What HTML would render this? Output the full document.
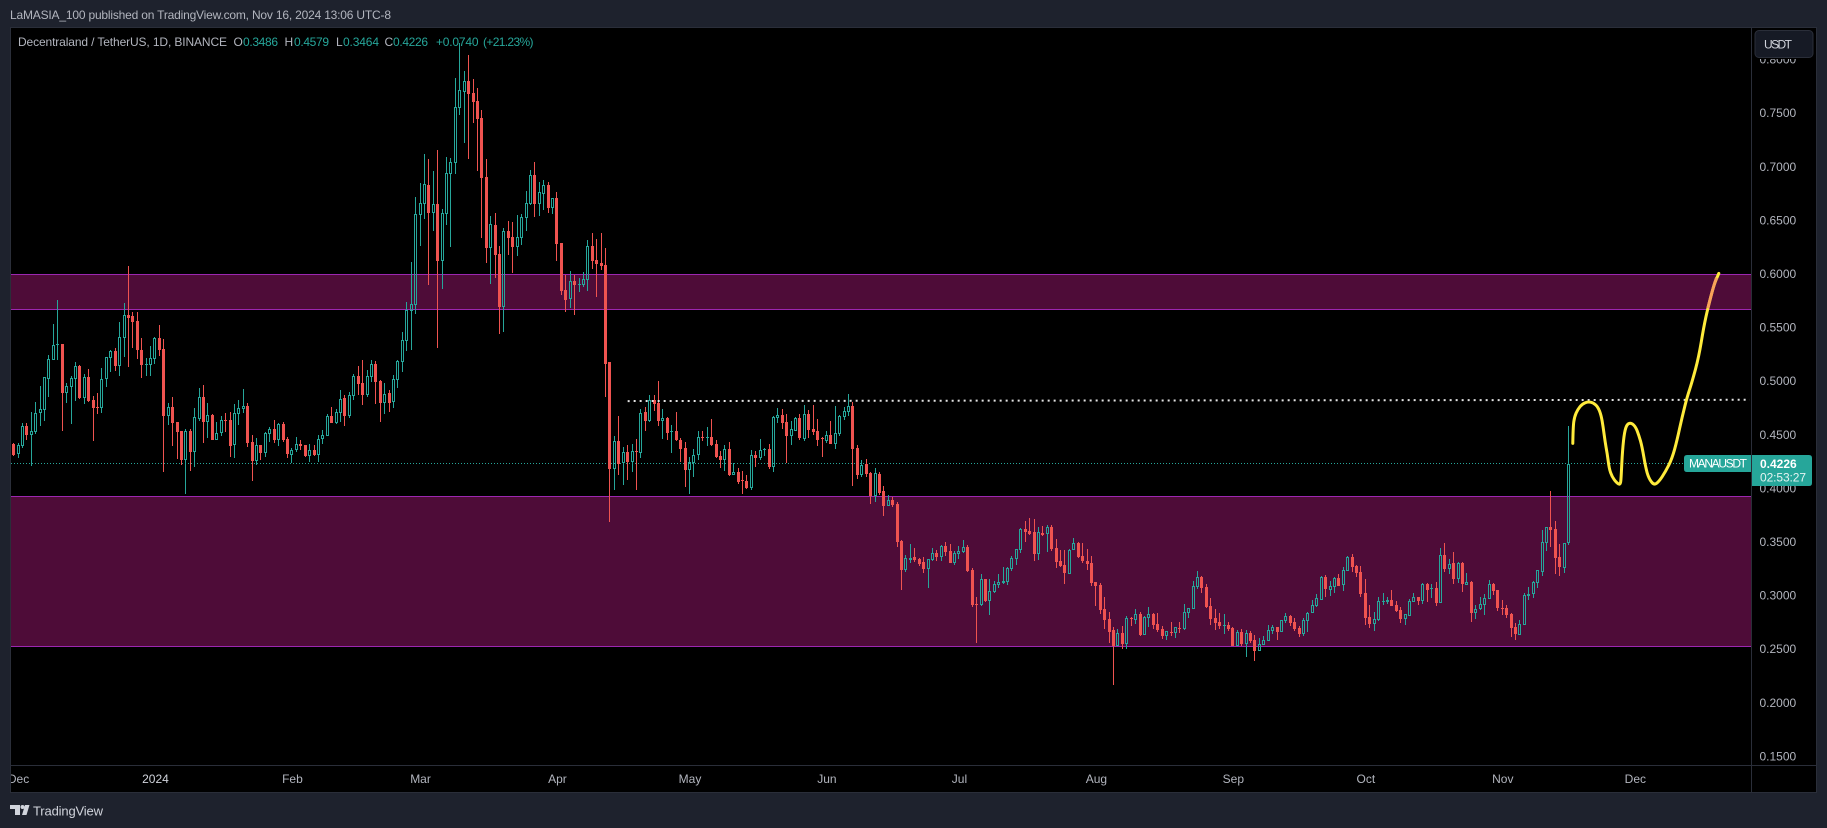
<!DOCTYPE html>
<html lang="en">
<head>
<meta charset="utf-8">
<title>Decentraland / TetherUS chart</title>
<style>
html,body{margin:0;padding:0;width:1827px;height:828px;overflow:hidden;background:#1e222d}
svg{display:block;font-family:"Liberation Sans",sans-serif}
text{dominant-baseline:central}
</style>
</head>
<body>
<svg id="chart" xmlns="http://www.w3.org/2000/svg" width="1827" height="828" viewBox="0 0 1827 828">
  <defs><clipPath id="plot-clip"><rect x="11" y="28" width="1740" height="737"/></clipPath></defs>
  <rect x="0" y="0" width="1827" height="828" fill="#1e222d"/>
  <text x="10" y="15" font-size="12" fill="#b2b5be" textLength="381" lengthAdjust="spacing">LaMASIA_100 published on TradingView.com, Nov 16, 2024 13:06 UTC-8</text>
  <rect x="10.5" y="27.5" width="1806" height="765" fill="#000" stroke="#2a2e39" shape-rendering="crispEdges"/>
  <g id="plot" clip-path="url(#plot-clip)"></g>
  <rect x="1751" y="28" width="1" height="764" fill="#2a2e39" shape-rendering="crispEdges"/>
  <rect x="11" y="765" width="1805" height="1" fill="#2a2e39" shape-rendering="crispEdges"/>
  <g id="price-axis"></g>
  <svg x="11" y="766" width="1740" height="26"><g id="time-axis"></g></svg>

  <g font-size="12">
    <text x="18" y="42" fill="#b2b5be" textLength="209" lengthAdjust="spacing">Decentraland / TetherUS, 1D, BINANCE</text>
    <text x="233.500" y="42" fill="#b2b5be">O</text>
    <text x="243" y="42" fill="#26a69a" textLength="35">0.3486</text>
    <text x="284.500" y="42" fill="#b2b5be">H</text>
    <text x="294" y="42" fill="#26a69a" textLength="35">0.4579</text>
    <text x="336" y="42" fill="#b2b5be">L</text>
    <text x="343" y="42" fill="#26a69a" textLength="36">0.3464</text>
    <text x="384.500" y="42" fill="#b2b5be">C</text>
    <text x="393" y="42" fill="#26a69a" textLength="35">0.4226</text>
    <text x="436" y="42" fill="#26a69a" textLength="42.5">+0.0740</text>
    <text x="483" y="42" fill="#26a69a" textLength="50.5">(+21.23%)</text>
  </g>

  <rect x="1752" y="28" width="64" height="31" fill="#000"/>
  <g>
    <rect x="1755" y="30.5" width="58" height="27" rx="4" fill="#161a25" stroke="#2a2e39"/>
    <text x="1764" y="44.5" font-size="12" fill="#d1d4dc" textLength="28">USDT</text>
  </g>

  <g>
    <path d="M1687 455H1751V472H1687Q1684 472 1684 469V458Q1684 455 1687 455Z" fill="#26a69a"/>
    <text x="1689" y="463.5" font-size="12" fill="#fff" textLength="58">MANAUSDT</text>
    <path d="M1752 455H1809Q1812 455 1812 458V483Q1812 486 1809 486H1752Z" fill="#26a69a"/>
    <text x="1760" y="464" font-size="12" font-weight="bold" fill="#fff">0.4226</text>
    <text x="1760" y="477.5" font-size="12" fill="#e3f3f1" textLength="46">02:53:27</text>
  </g>

  <g>
    <path d="M10 805H20V815H15V809H10Z M25 815L28 805H29.500L26.500 815Z M22 815L25 805H29L26 815Z" fill="#d1d4dc"/>
    <circle cx="22.500" cy="807" r="2" fill="#d1d4dc"/>
    <text x="33" y="811" font-size="13" fill="#d1d4dc" textLength="70" lengthAdjust="spacing">TradingView</text>
  </g>
</svg>

<script>
const priceTicks = ["0.8000","0.7500","0.7000","0.6500","0.6000","0.5500","0.5000","0.4500","0.4000","0.3500","0.3000","0.2500","0.2000","0.1500"];
const monthLabels = ["Dec","2024","Feb","Mar","Apr","May","Jun","Jul","Aug","Sep","Oct","Nov","Dec"];
const monthBars = [2,33,64,93,124,154,185,215,246,277,307,338,368];

const opens = [
.4440,.4409,.4316,.4390,.4577,.4496,.4521,.4701,.4729,.5018,
.5196,.5332,.5342,.4888,.4944,.5018,.5137,.4838,.5034,.4819,
.4754,.4745,.5018,.5214,.5277,.5137,.5401,.5612,.5603,.5556,
.5286,.5149,.5146,.5205,.5398,.5295,.4670,.4754,.4614,.4530,
.4260,.4530,.4334,.4642,.4847,.4614,.4680,.4446,.4512,.4633,
.4633,.4400,.4689,.4735,.4763,.4428,.4250,.4400,.4325,.4502,
.4549,.4446,.4595,.4456,.4306,.4353,.4409,.4400,.4297,.4353,
.4306,.4456,.4484,.4670,.4605,.4698,.4838,.4670,.4857,.5043,
.4978,.4866,.5034,.5155,.4997,.4791,.4885,.4801,.5006,.5174,
.5370,.5653,.5706,.6546,.6648,.6825,.6564,.6648,.6116,.6555,
.6928,.7031,.7544,.7693,.7796,.7684,.7609,.7451,.6900,.6238,
.6452,.6182,.5687,.6396,.6340,.6247,.6331,.6518,.6648,.6919,
.6648,.6741,.6825,.6611,.6704,.6284,.5846,.5762,.5930,.5896,
.5892,.5939,.6256,.6126,.6098,.6079,.5174,.4176,.4437,.4232,
.4334,.4241,.4344,.4325,.4708,.4624,.4820,.4792,.4624,.4652,
.4521,.4530,.4446,.4372,.4166,.4232,.4306,.4474,.4468,.4474,
.4409,.4297,.4260,.4362,.4120,.4148,.4073,.4064,.3999,.4306,
.4278,.4356,.4362,.4194,.4652,.4680,.4614,.4484,.4530,.4652,
.4456,.4689,.4549,.4530,.4465,.4437,.4493,.4409,.4502,.4661,
.4708,.4764,.4372,.4120,.4222,.4139,.3924,.4129,.3971,.3831,
.3887,.3849,.3504,.3233,.3327,.3355,.3336,.3308,.3243,.3327,
.3392,.3355,.3458,.3411,.3299,.3383,.3402,.3448,.3234,.2917,
.2907,.3150,.2945,.3029,.3094,.3116,.3122,.3243,.3337,.3420,
.3616,.3598,.3588,.3383,.3579,.3570,.3635,.3439,.3318,.3281,
.3200,.3420,.3486,.3365,.3318,.3299,.3122,.3094,.2870,.2777,
.2674,.2525,.2646,.2543,.2786,.2767,.2823,.2627,.2786,.2823,
.2730,.2683,.2618,.2655,.2646,.2693,.2683,.2833,.2870,.3075,
.3169,.3075,.2898,.2786,.2749,.2715,.2721,.2693,.2525,.2655,
.2543,.2646,.2581,.2478,.2535,.2572,.2665,.2702,.2656,.2758,
.2805,.2749,.2693,.2637,.2758,.2833,.2898,.2954,.3169,.3048,
.3076,.3160,.3094,.3225,.3356,.3272,.3216,.3020,.2796,.2730,
.2768,.2936,.2936,.2954,.2908,.2861,.2777,.2805,.2936,.2982,
.2945,.3104,.3060,.3066,.2926,.3374,.3244,.3300,.3150,.3300,
.3094,.3122,.2833,.2870,.2908,.2964,.3104,.3048,.2880,.2880,
.2824,.2702,.2628,.2721,.2995,.3010,.3113,.3216,.3486,.3635,
.3617,.3356,.3253,.3486];

const highs = [
.4446,.4415,.4415,.4602,.4602,.4707,.4801,.4950,.5031,.5239,
.5528,.5752,.5342,.4975,.5043,.5171,.5143,.5062,.5109,.4854,
.4885,.5118,.5217,.5286,.5301,.5547,.5724,.6070,.5640,.5640,
.5398,.5208,.5323,.5404,.5519,.5389,.4791,.4847,.4614,.4530,
.4549,.4549,.4745,.4931,.4959,.4791,.4689,.4614,.4670,.4698,
.4707,.4782,.4819,.4922,.4791,.4493,.4465,.4400,.4521,.4568,
.4633,.4602,.4614,.4474,.4372,.4474,.4446,.4400,.4409,.4400,
.4493,.4539,.4689,.4754,.4735,.4913,.4866,.4894,.5062,.5137,
.5193,.5099,.5193,.5183,.5006,.4978,.4913,.5053,.5193,.5454,
.5734,.6107,.6713,.6844,.7115,.7068,.6956,.7152,.6601,.7087,
.7077,.7824,.8150,.7889,.8038,.7814,.7730,.7525,.7068,.6536,
.6564,.6256,.6424,.6490,.6480,.6546,.6555,.6769,.6965,.7040,
.6853,.6872,.6853,.6704,.6760,.6284,.5986,.6023,.5986,.5958,
.6014,.6312,.6378,.6322,.6378,.6238,.5174,.4484,.4670,.4381,
.4400,.4409,.4456,.4736,.4754,.4866,.4866,.4997,.4736,.4661,
.4586,.4708,.4465,.4428,.4288,.4362,.4530,.4530,.4568,.4642,
.4446,.4344,.4400,.4428,.4232,.4185,.4157,.4120,.4353,.4344,
.4456,.4372,.4409,.4670,.4745,.4736,.4689,.4624,.4661,.4689,
.4773,.4726,.4773,.4642,.4474,.4530,.4624,.4764,.4680,.4754,
.4876,.4801,.4400,.4260,.4269,.4148,.4185,.4148,.4017,.3933,
.3915,.3868,.3513,.3373,.3476,.3439,.3345,.3355,.3336,.3439,
.3420,.3467,.3495,.3476,.3411,.3458,.3514,.3467,.3253,.2982,
.3197,.3150,.3150,.3131,.3197,.3262,.3262,.3365,.3430,.3626,
.3691,.3719,.3710,.3635,.3644,.3654,.3654,.3523,.3420,.3420,
.3430,.3532,.3495,.3486,.3430,.3365,.3122,.3113,.2982,.2842,
.2702,.2683,.2711,.2805,.2795,.2870,.2842,.2805,.2889,.2833,
.2833,.2711,.2665,.2749,.2702,.2749,.2917,.2879,.3131,.3225,
.3178,.3103,.2973,.2870,.2833,.2823,.2749,.2702,.2674,.2683,
.2674,.2665,.2627,.2599,.2619,.2721,.2721,.2702,.2768,.2833,
.2814,.2786,.2712,.2786,.2842,.2954,.3010,.3178,.3188,.3132,
.3169,.3197,.3262,.3365,.3384,.3281,.3272,.3150,.2908,.2842,
.2982,.3020,.2982,.3048,.2945,.2889,.2824,.2964,.3020,.2982,
.3113,.3113,.3104,.3122,.3440,.3486,.3337,.3402,.3309,.3309,
.3206,.3132,.2908,.2982,.3010,.3141,.3113,.3048,.2954,.2908,
.2833,.2740,.2768,.3020,.3076,.3132,.3234,.3608,.3635,.3971,
.3691,.3477,.3486,.4579];

const lows = [
.4400,.4297,.4278,.4372,.4446,.4204,.4502,.4577,.4623,.4847,
.5196,.5193,.4530,.4791,.4595,.4810,.4826,.4782,.4798,.4437,
.4689,.4695,.4941,.5078,.5090,.5043,.5221,.5127,.5305,.5202,
.5025,.5043,.5043,.5155,.5230,.4148,.4586,.4390,.4269,.4213,
.3942,.4157,.4194,.4623,.4418,.4465,.4446,.4446,.4484,.4521,
.4288,.4278,.4586,.4698,.4381,.4064,.4213,.4260,.4288,.4428,
.4418,.4390,.4428,.4278,.4232,.4334,.4353,.4288,.4241,.4297,
.4241,.4409,.4484,.4605,.4595,.4614,.4577,.4651,.4819,.4866,
.4773,.4847,.4987,.4782,.4614,.4689,.4707,.4745,.4931,.5081,
.5277,.5286,.5622,.6256,.6508,.5892,.6396,.5305,.5855,.6452,
.6247,.6928,.7479,.7217,.7068,.7404,.6956,.6331,.6098,.5902,
.5958,.5435,.5454,.6172,.6004,.6163,.6266,.6396,.6639,.6527,
.6536,.6592,.6564,.6555,.6116,.5799,.5641,.5678,.5613,.5827,
.5874,.5836,.6042,.5781,.6032,.4848,.3681,.3980,.4120,.4027,
.4073,.4148,.3980,.4278,.4530,.4614,.4717,.4577,.4456,.4446,
.4325,.4437,.4241,.4008,.3943,.4101,.4260,.4437,.4390,.4390,
.4278,.4185,.4157,.4111,.4120,.4036,.3943,.3989,.3980,.4194,
.4260,.4297,.4176,.4148,.4605,.4549,.4232,.4400,.4530,.4446,
.4437,.4465,.4493,.4390,.4288,.4418,.4409,.4362,.4484,.4633,
.4670,.4017,.4082,.4101,.4101,.3849,.3868,.3933,.3737,.3831,
.3821,.3448,.3047,.3215,.3299,.3308,.3271,.3206,.3066,.3318,
.3318,.3318,.3365,.3299,.3281,.3337,.3392,.3215,.2889,.2553,
.2898,.2935,.2814,.3019,.3066,.3103,.3094,.3225,.3281,.3392,
.3495,.3560,.3318,.3327,.3551,.3402,.3411,.3253,.3262,.3103,
.3197,.3420,.3346,.3299,.3234,.3085,.2898,.2823,.2683,.2553,
.2161,.2525,.2497,.2497,.2711,.2730,.2618,.2627,.2702,.2683,
.2655,.2590,.2581,.2618,.2599,.2646,.2674,.2786,.2870,.3057,
.3019,.2879,.2721,.2674,.2683,.2637,.2665,.2525,.2525,.2525,
.2422,.2553,.2385,.2478,.2535,.2572,.2637,.2581,.2656,.2740,
.2712,.2665,.2609,.2619,.2656,.2833,.2889,.2954,.2982,.2992,
.3020,.3085,.3038,.3225,.3216,.3169,.2982,.2721,.2693,.2665,
.2758,.2908,.2917,.2898,.2842,.2740,.2721,.2805,.2936,.2908,
.2917,.2936,.2973,.2898,.2926,.3216,.3197,.3104,.3113,.3029,
.3094,.2749,.2777,.2861,.2814,.2964,.3001,.2852,.2814,.2786,
.2609,.2581,.2628,.2721,.2954,.2973,.3066,.3178,.3412,.3449,
.3197,.3178,.3206,.3464];

const closes = [
.4409,.4303,.4396,.4577,.4493,.4527,.4695,.4732,.5031,.5199,
.5329,.5339,.4888,.4947,.5022,.5134,.4838,.5031,.4810,.4745,
.4748,.5012,.5217,.5277,.5137,.5404,.5609,.5584,.5547,.5286,
.5146,.5155,.5208,.5398,.5286,.4670,.4754,.4605,.4521,.4260,
.4530,.4334,.4658,.4847,.4614,.4680,.4446,.4508,.4633,.4623,
.4390,.4695,.4745,.4763,.4418,.4250,.4400,.4325,.4512,.4549,
.4446,.4595,.4446,.4316,.4353,.4409,.4390,.4297,.4353,.4306,
.4456,.4490,.4670,.4605,.4707,.4829,.4670,.4863,.5043,.4969,
.4866,.5043,.5155,.4987,.4791,.4875,.4791,.5015,.5183,.5379,
.5659,.5712,.6555,.6658,.6835,.6564,.6648,.6116,.6564,.6937,
.7040,.7553,.7712,.7796,.7674,.7600,.7441,.6891,.6238,.6462,
.6172,.5687,.6396,.6331,.6247,.6340,.6527,.6658,.6919,.6648,
.6760,.6825,.6611,.6704,.6275,.5836,.5753,.5930,.5892,.5902,
.5948,.6256,.6116,.6088,.6070,.5156,.4176,.4437,.4222,.4334,
.4241,.4344,.4334,.4698,.4624,.4820,.4782,.4624,.4652,.4512,
.4530,.4446,.4362,.4166,.4241,.4306,.4474,.4465,.4478,.4400,
.4288,.4260,.4362,.4120,.4148,.4055,.4067,.3999,.4306,.4278,
.4353,.4362,.4194,.4661,.4680,.4605,.4484,.4549,.4652,.4465,
.4689,.4540,.4521,.4446,.4456,.4493,.4409,.4512,.4670,.4717,
.4764,.4362,.4120,.4213,.4129,.3924,.4139,.3952,.3831,.3887,
.3840,.3495,.3233,.3345,.3345,.3327,.3289,.3243,.3336,.3392,
.3355,.3458,.3402,.3299,.3392,.3411,.3448,.3225,.2907,.2910,
.3150,.2945,.3038,.3103,.3122,.3128,.3253,.3346,.3427,.3616,
.3588,.3570,.3383,.3588,.3560,.3635,.3430,.3309,.3271,.3206,
.3420,.3486,.3355,.3318,.3290,.3113,.3085,.2861,.2767,.2655,
.2525,.2643,.2543,.2786,.2777,.2823,.2627,.2795,.2823,.2721,
.2674,.2618,.2665,.2646,.2702,.2687,.2842,.2879,.3085,.3169,
.3066,.2889,.2777,.2739,.2711,.2721,.2683,.2525,.2655,.2543,
.2646,.2571,.2478,.2543,.2581,.2675,.2702,.2656,.2768,.2805,
.2740,.2684,.2637,.2768,.2833,.2908,.2973,.3169,.3057,.3085,
.3160,.3085,.3234,.3356,.3262,.3206,.3010,.2786,.2730,.2777,
.2945,.2945,.2954,.2898,.2852,.2777,.2824,.2945,.2982,.2945,
.3104,.3048,.3066,.2926,.3374,.3244,.3290,.3150,.3300,.3104,
.3122,.2833,.2870,.2917,.2973,.3104,.3038,.2880,.2870,.2814,
.2693,.2637,.2730,.3001,.3007,.3122,.3234,.3496,.3635,.3608,
.3346,.3262,.3486,.4226];

const zoneTops = [0.5993, 0.3922];
const zoneBottoms = [0.5666, 0.2522];
const lastPrice = [0.4226];
const resistanceBars = [140, 394];
const resistancePrices = [0.4810, 0.4822];
const forecastBars = [353.84,353.92,354.22,354.98,355.96,357.24,358.45,359.50,360.26,360.71,361.16,361.62,362.07,362.75,363.73,364.64,364.79,365.09,365.54,366.14,367.05,368.03,368.79,369.54,370.29,371.05,372.18,373.31,374.82,376.33,377.46,378.60,379.73,380.86,382.37,383.50,384.41,385.77,386.90];
const forecastPrices = [.4415,.4571,.4664,.4732,.4782,.4804,.4795,.4757,.4680,.4571,.4431,.4322,.4182,.4104,.4048,.4026,.4104,.4353,.4524,.4596,.4608,.4571,.4493,.4384,.4197,.4089,.4026,.4057,.4151,.4275,.4446,.4664,.4851,.4991,.5224,.5504,.5675,.5892,.6001];

const NS = "http://www.w3.org/2000/svg";
const GREEN = "#26a69a", RED = "#ef5350";
const xScale = function (bar) { return 9.2 + bar * 4.4175; };
const yScale = function (price) { return 541.5 + (0.35 - price) * 1072; };

function make(tag, parent, attrs) {
  const node = document.createElementNS(NS, tag);
  for (const key in attrs) node.setAttribute(key, attrs[key]);
  parent.appendChild(node);
  return node;
}

function smoothPath(bars, prices) {
  const pts = bars.map(function (b, i) { return [xScale(b) + 0.5, yScale(prices[i])]; });
  let d = "M" + pts[0][0].toFixed(1) + " " + pts[0][1].toFixed(1);
  for (let i = 1; i < pts.length - 1; i++) {
    const mx = (pts[i][0] + pts[i + 1][0]) / 2, my = (pts[i][1] + pts[i + 1][1]) / 2;
    d += "Q" + pts[i][0].toFixed(1) + " " + pts[i][1].toFixed(1) + " " + mx.toFixed(1) + " " + my.toFixed(1);
  }
  const last = pts[pts.length - 1];
  return d + "L" + last[0].toFixed(1) + " " + last[1].toFixed(1);
}

const plot = document.getElementById("plot");

zoneTops.forEach(function (top, i) {
  const yT = Math.floor(yScale(top)), yB = Math.floor(yScale(zoneBottoms[i]));
  const zone = make("rect", plot, {x: 11, y: yT, width: 1740, height: yB - yT, fill: "#4e0c38", "shape-rendering": "crispEdges"});
  
  
  const upper = make("rect", plot, {x: 11, y: yT, width: 1740, height: 1, fill: "#9c27b0", "shape-rendering": "crispEdges"});
  
  
  const lower = make("rect", plot, {x: 11, y: yB, width: 1740, height: 1, fill: "#9c27b0", "shape-rendering": "crispEdges"});
  
  
});

const lastLine = make("line", plot, {x1: 11, x2: 1751, y1: Math.floor(yScale(lastPrice[0])) + 0.5, y2: Math.floor(yScale(lastPrice[0])) + 0.5, stroke: GREEN, "stroke-width": 1, "stroke-dasharray": "1 2"});



opens.forEach(function (open, i) {
  const close = closes[i], up = close >= open, color = up ? GREEN : RED;
  const px = Math.floor(xScale(i));
  const yHigh = Math.round(yScale(highs[i])), yLow = Math.round(yScale(lows[i]));
  const yT = Math.round(yScale(Math.max(open, close))), yB = Math.round(yScale(Math.min(open, close)));
  const h = Math.max(1, yB - yT);
  const g = make("g", plot, {"shape-rendering": "crispEdges"});
  
  
  if (yHigh < yT) {
    const w1 = make("rect", g, {x: px, y: yHigh, width: 1, height: yT - yHigh, fill: color});
    
    
  }
  if (yLow > yT + h) {
    const w2 = make("rect", g, {x: px, y: yT + h, width: 1, height: yLow - yT - h, fill: color});
    
    
  }
  let body;
  if (up && h >= 3) {
    body = make("rect", g, {x: px - 0.5, y: yT + 0.5, width: 2, height: h - 1, fill: "none", stroke: color, "stroke-width": 1});
  } else {
    body = make("rect", g, {x: px - 1, y: yT, width: 3, height: h, fill: color});
  }
  
  
});

const resistance = make("line", plot, {x1: xScale(resistanceBars[0]), x2: xScale(resistanceBars[1]), y1: yScale(resistancePrices[0]), y2: yScale(resistancePrices[1]), stroke: "#e4e4e4", "stroke-width": 2, "stroke-dasharray": "2 4"});



const forecast = make("path", plot, {d: smoothPath(forecastBars, forecastPrices), fill: "none", stroke: "#ffeb3b", "stroke-width": 3, "stroke-linecap": "round", "stroke-linejoin": "round"});



const forecastInZone = make("path", plot, {d: smoothPath(forecastBars.slice(-3, -1).concat(forecastBars[forecastBars.length - 1] - 0.5), forecastPrices.slice(-3, -1).concat(forecastPrices[forecastPrices.length - 1] - 0.004)), fill: "none", stroke: "#f8a35a", "stroke-width": 3});



const priceAxis = document.getElementById("price-axis");
priceTicks.forEach(function (label) {
  const t = make("text", priceAxis, {x: 1759.5, y: yScale(parseFloat(label)) + 0.5, "font-size": 12, fill: "#b2b5be"});
  t.textContent = label;
  
  
});

const timeAxis = document.getElementById("time-axis");
monthLabels.forEach(function (label, i) {
  const t = make("text", timeAxis, {x: xScale(monthBars[i]) + 0.5 - 11, y: 13, "font-size": 12, fill: label === "2024" ? "#d1d4dc" : "#b2b5be", "text-anchor": "middle"});
  t.textContent = label;
  
  
});
</script>
</body>
</html>
